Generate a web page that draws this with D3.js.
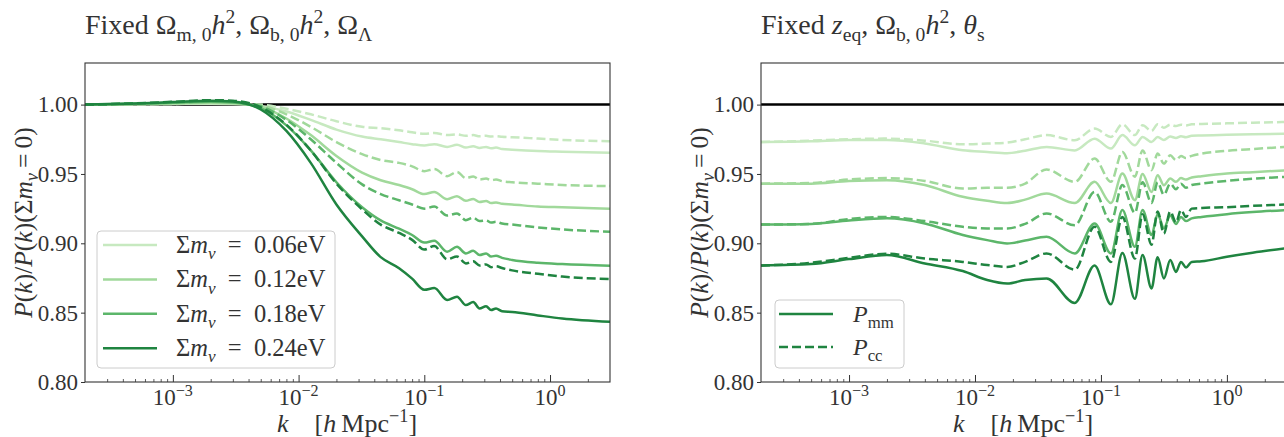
<!DOCTYPE html>
<html>
<head>
<meta charset="utf-8">
<script src="https://cdn.jsdelivr.net/npm/d3@7"></script>
<style>
  body { margin: 0; background: #fff; }
  svg { display: block; font-family: 'Liberation Serif', 'DejaVu Serif', serif; }
</style>
</head>
<body>
<div id="chart"></div>
<script>
// neutrino masses (eV) and their colours
const masses = ['0.06', '0.12', '0.18', '0.24']
const colors = ['#c7e9c0', '#a1d99b', '#5cb66a', '#1f8440']

// left panel: fixed Omega_m h^2, Omega_b h^2, Omega_Lambda
const kLeft = [0.0002, 0.0005, 0.001, 0.002, 0.003, 0.005, 0.008, 0.0125, 0.02, 0.032,
  0.045, 0.063, 0.08, 0.1, 0.12, 0.152, 0.182, 0.214, 0.245, 0.275, 0.31, 0.34, 0.372,
  0.415, 0.5, 0.8, 1.25, 3.0]

const leftMm06 = [1.000, 1.0002, 1.0005, 1.0007, 1.0005, 0.999, 0.995, 0.989, 0.982, 0.977,
  0.975, 0.973, 0.9715, 0.9705, 0.9715, 0.9695, 0.971, 0.969, 0.970, 0.9688, 0.9695, 0.9685,
  0.969, 0.968, 0.9675, 0.9665, 0.966, 0.9652]
const leftCc06 = [1.000, 1.0002, 1.0005, 1.0008, 1.0007, 1.000, 0.997, 0.993, 0.988, 0.984,
  0.983, 0.9815, 0.980, 0.979, 0.9795, 0.978, 0.9785, 0.9775, 0.978, 0.9772, 0.9775, 0.977,
  0.9772, 0.9768, 0.9765, 0.9755, 0.9745, 0.9736]
const leftMm12 = [1.000, 1.0004, 1.0009, 1.0014, 1.001, 0.9985, 0.990, 0.978, 0.963, 0.951,
  0.9455, 0.942, 0.939, 0.9355, 0.937, 0.9318, 0.934, 0.9306, 0.932, 0.9298, 0.9305, 0.929,
  0.9295, 0.9285, 0.928, 0.9265, 0.926, 0.925]
const leftCc12 = [1.000, 1.0005, 1.001, 1.0016, 1.0014, 0.9995, 0.993, 0.984, 0.973, 0.9643,
  0.960, 0.958, 0.9555, 0.952, 0.9535, 0.9484, 0.9515, 0.947, 0.9482, 0.946, 0.9467, 0.9455,
  0.946, 0.9448, 0.944, 0.943, 0.942, 0.9413]
const leftMm18 = [1.000, 1.0006, 1.0014, 1.0021, 1.0016, 0.9975, 0.985, 0.967, 0.944, 0.926,
  0.9165, 0.9105, 0.906, 0.9005, 0.9018, 0.894, 0.8975, 0.8927, 0.8946, 0.8915, 0.8927, 0.8905,
  0.891, 0.8895, 0.888, 0.886, 0.885, 0.8838]
const leftCc18 = [1.000, 1.0007, 1.0015, 1.0024, 1.002, 0.9988, 0.989, 0.975, 0.958, 0.9425,
  0.9355, 0.931, 0.928, 0.925, 0.9265, 0.920, 0.9215, 0.9167, 0.9185, 0.916, 0.9165, 0.915,
  0.9155, 0.9143, 0.9135, 0.9115, 0.910, 0.9083]
const leftMm24 = [1.000, 1.0008, 1.0018, 1.0028, 1.0022, 0.9965, 0.981, 0.958, 0.928, 0.905,
  0.890, 0.882, 0.8745, 0.8665, 0.8677, 0.8591, 0.8615, 0.8555, 0.8576, 0.853, 0.8547, 0.8519,
  0.853, 0.851, 0.8505, 0.848, 0.8458, 0.8434]
const leftCc24 = [1.000, 1.0009, 1.002, 1.0032, 1.0028, 0.998, 0.9855, 0.967, 0.943, 0.9245,
  0.9135, 0.9075, 0.9025, 0.8955, 0.898, 0.8885, 0.8905, 0.8855, 0.887, 0.884, 0.8848, 0.8828,
  0.8835, 0.8822, 0.8805, 0.878, 0.876, 0.8742]

// right panel: fixed z_eq, Omega_b h^2, theta_s
const kRight = [0.0002, 0.0005, 0.001, 0.002, 0.004, 0.008, 0.0125, 0.018, 0.025, 0.037,
  0.062, 0.089, 0.12, 0.148, 0.186, 0.214, 0.252, 0.282, 0.316, 0.355, 0.394, 0.432, 0.473,
  0.525, 0.63, 1.0, 1.6, 3.0]

const rightMm06 = [0.973, 0.9735, 0.9745, 0.9745, 0.972, 0.9671, 0.9659, 0.965, 0.9667, 0.9695,
  0.967, 0.9754, 0.9683, 0.978, 0.9707, 0.9767, 0.9731, 0.9767, 0.9745, 0.977, 0.976, 0.9772,
  0.9765, 0.9775, 0.9777, 0.9783, 0.9787, 0.979]
const rightCc06 = [0.973, 0.974, 0.975, 0.9755, 0.974, 0.9714, 0.9719, 0.9726, 0.975, 0.978,
  0.9743, 0.9827, 0.9767, 0.9858, 0.978, 0.9851, 0.981, 0.9858, 0.9834, 0.9855, 0.9845, 0.9855,
  0.985, 0.9858, 0.986, 0.9865, 0.987, 0.9875]
const rightMm12 = [0.943, 0.943, 0.945, 0.9455, 0.942, 0.9335, 0.9306, 0.929, 0.9315, 0.9359,
  0.929, 0.9443, 0.929, 0.9503, 0.9311, 0.950, 0.937, 0.9491, 0.9419, 0.9467, 0.9443, 0.947,
  0.946, 0.9475, 0.9484, 0.9503, 0.9513, 0.9527]
const rightCc12 = [0.943, 0.9435, 0.946, 0.947, 0.945, 0.9395, 0.940, 0.940, 0.9431, 0.9532,
  0.9443, 0.9611, 0.9443, 0.9659, 0.948, 0.967, 0.9527, 0.9647, 0.9575, 0.9635, 0.960, 0.963,
  0.9615, 0.963, 0.9647, 0.9667, 0.968, 0.9695]
const rightMm18 = [0.9135, 0.914, 0.9165, 0.918, 0.9143, 0.906, 0.9023, 0.8999, 0.902, 0.9047,
  0.8927, 0.9143, 0.8927, 0.924, 0.8975, 0.924, 0.906, 0.921, 0.911, 0.920, 0.914, 0.919,
  0.916, 0.918, 0.919, 0.921, 0.9225, 0.924]
const rightCc18 = [0.9135, 0.914, 0.9175, 0.919, 0.916, 0.9119, 0.9107, 0.9107, 0.914, 0.9215,
  0.913, 0.937, 0.9155, 0.942, 0.922, 0.944, 0.929, 0.944, 0.935, 0.943, 0.939, 0.943,
  0.940, 0.942, 0.943, 0.945, 0.9465, 0.948]
const rightMm24 = [0.884, 0.885, 0.8886, 0.8915, 0.8855, 0.880, 0.8735, 0.871, 0.8735, 0.8747,
  0.857, 0.884, 0.856, 0.893, 0.860, 0.8915, 0.8675, 0.890, 0.8747, 0.888, 0.8794, 0.8866,
  0.8826, 0.8866, 0.887, 0.8903, 0.8932, 0.8965]
const rightCc24 = [0.884, 0.886, 0.8895, 0.8925, 0.889, 0.8866, 0.8843, 0.883, 0.8866, 0.8927,
  0.881, 0.912, 0.8866, 0.919, 0.889, 0.921, 0.899, 0.923, 0.907, 0.923, 0.915, 0.924,
  0.919, 0.925, 0.9255, 0.926, 0.927, 0.928]

const yTicks = [0.80, 0.85, 0.90, 0.95, 1.00]
const xTicks = [1e-3, 1e-2, 1e-1, 1]
const xTickExp = ['\u22123', '\u22122', '\u22121', '0']

const W = 1284
const H = 437
const plotTop = 63
const plotBottom = 382
const textColor = '#333'

const panels = [
  {
    left: 85, right: 610, k: kLeft,
    mm: [leftMm06, leftMm12, leftMm18, leftMm24],
    cc: [leftCc06, leftCc12, leftCc18, leftCc24],
    title: [{ t: 'Fixed ' }, { t: '\u03A9' }, { t: 'm, 0', s: 'sub' }, { t: 'h', i: true },
      { t: '2', s: 'sup' }, { t: ', \u03A9' }, { t: 'b, 0', s: 'sub' }, { t: 'h', i: true },
      { t: '2', s: 'sup' }, { t: ', \u03A9' }, { t: '\u039B', s: 'sub' }]
  },
  {
    left: 761, right: 1287, k: kRight,
    mm: [rightMm06, rightMm12, rightMm18, rightMm24],
    cc: [rightCc06, rightCc12, rightCc18, rightCc24],
    title: [{ t: 'Fixed ' }, { t: 'z', i: true }, { t: 'eq', s: 'sub' }, { t: ', \u03A9' },
      { t: 'b, 0', s: 'sub' }, { t: 'h', i: true }, { t: '2', s: 'sup' }, { t: ', ' },
      { t: '\u03B8', i: true }, { t: 's', s: 'sub' }]
  }
]

const svg = d3.select('#chart').append('svg').attr('width', W).attr('height', H)

// write text made of normal / italic / sub / sup pieces
function rich(sel, parts, size) {
  let shift = 0
  parts.forEach(function(p) {
    const target = p.s === 'sub' ? size * 0.25 : p.s === 'sup' ? -size * 0.38 : 0
    sel.append('tspan')
      .attr('dy', target - shift)
      .attr('font-size', p.s ? size * 0.7 : size)
      .attr('font-style', p.i ? 'italic' : null)
      .text(p.t)
    shift = target
  })
}

const yPositionScale = d3.scaleLinear().domain([0.8, 1.03]).range([plotBottom, plotTop])

const minorTicks = []
for (let e = -4; e <= 0; e++) {
  for (let m = 2; m <= 9; m++) {
    const v = m * Math.pow(10, e)
    if (v > 2e-4 && v < 3) minorTicks.push(v)
  }
}

panels.forEach(function(p, pi) {
  const xPositionScale = d3.scaleLog().domain([2e-4, 3]).range([p.left, p.right])
  const g = svg.append('g')

  g.append('clipPath').attr('id', 'clip' + pi)
    .append('rect')
    .attr('x', p.left).attr('y', plotTop)
    .attr('width', p.right - p.left).attr('height', plotBottom - plotTop)

  // reference line at 1
  g.append('line')
    .attr('x1', p.left).attr('x2', p.right)
    .attr('y1', yPositionScale(1)).attr('y2', yPositionScale(1))
    .attr('stroke', '#000').attr('stroke-width', 2.5)

  const line = d3.line()
    .x(function(d) { return xPositionScale(d[0]) })
    .y(function(d) { return yPositionScale(d[1]) })
    .curve(d3.curveMonotoneX)

  const curves = g.append('g').attr('clip-path', 'url(#clip' + pi + ')')
  masses.forEach(function(m, i) {
    curves.append('path')
      .datum(p.k.map(function(k, j) { return [k, p.cc[i][j]] }))
      .attr('d', line)
      .attr('fill', 'none')
      .attr('stroke', colors[i])
      .attr('stroke-width', 2.5)
      .attr('stroke-dasharray', '9,4')
    curves.append('path')
      .datum(p.k.map(function(k, j) { return [k, p.mm[i][j]] }))
      .attr('d', line)
      .attr('fill', 'none')
      .attr('stroke', colors[i])
      .attr('stroke-width', 2.5)
  })

  // spines
  g.append('rect')
    .attr('x', p.left).attr('y', plotTop)
    .attr('width', p.right - p.left).attr('height', plotBottom - plotTop)
    .attr('fill', 'none').attr('stroke', '#333').attr('stroke-width', 1.1)

  // y axis
  const yAxis = g.append('g')
    .attr('transform', 'translate(' + p.left + ',0)')
    .call(d3.axisLeft(yPositionScale).tickValues(yTicks).tickFormat(d3.format('.2f'))
      .tickSize(4).tickPadding(3))
  yAxis.select('.domain').remove()
  yAxis.selectAll('line').attr('stroke', '#333')
  yAxis.selectAll('text').attr('font-size', 23).attr('fill', textColor)
    .attr('font-family', "'Liberation Serif', serif")

  // x axis: major and minor ticks pointing inward
  const xAxis = g.append('g')
    .attr('transform', 'translate(0,' + plotBottom + ')')
    .call(d3.axisBottom(xPositionScale).tickValues(xTicks).tickFormat('').tickSize(-7))
  xAxis.select('.domain').remove()
  xAxis.selectAll('line').attr('stroke', '#333')
  const xMinor = g.append('g')
    .attr('transform', 'translate(0,' + plotBottom + ')')
    .call(d3.axisBottom(xPositionScale).tickValues(minorTicks).tickFormat('').tickSize(-3))
  xMinor.select('.domain').remove()
  xMinor.selectAll('line').attr('stroke', '#333').attr('stroke-width', 0.8)

  xTicks.forEach(function(t, i) {
    const lab = g.append('text')
      .attr('x', xPositionScale(t)).attr('y', 405)
      .attr('text-anchor', 'middle').attr('fill', textColor)
    rich(lab, [{ t: '10' }, { t: xTickExp[i], s: 'sup' }], 23)
  })

  // axis labels
  const xl = g.append('text')
    .attr('x', p.left + 262).attr('y', 432)
    .attr('text-anchor', 'middle').attr('fill', textColor)
  rich(xl, [{ t: 'k', i: true }, { t: '\u2003[' }, { t: 'h', i: true }, { t: '\u2009Mpc' },
    { t: '\u22121', s: 'sup' }, { t: ']' }], 26)

  const yl = g.append('text')
    .attr('transform', 'translate(' + (p.left - 53) + ',' + ((plotTop + plotBottom) / 2) + ') rotate(-90)')
    .attr('text-anchor', 'middle').attr('fill', textColor)
  rich(yl, [{ t: 'P', i: true }, { t: '(' }, { t: 'k', i: true }, { t: ')/' }, { t: 'P', i: true },
    { t: '(' }, { t: 'k', i: true }, { t: ')(\u03A3' }, { t: 'm', i: true },
    { t: '\u03BD', s: 'sub', i: true }, { t: '\u2009=\u20090)' }], 25.5)

  const ti = g.append('text')
    .attr('x', p.left).attr('y', 34).attr('fill', textColor)
  rich(ti, p.title, 28)
})

// legend, left panel: masses
const legL = svg.append('g')
legL.append('rect')
  .attr('x', 97).attr('y', 231).attr('width', 238).attr('height', 137)
  .attr('rx', 4).attr('fill', '#fff').attr('fill-opacity', 0.85)
  .attr('stroke', '#ccc')
masses.forEach(function(m, i) {
  const yy = 245 + i * 34.4
  legL.append('line')
    .attr('x1', 103).attr('x2', 157).attr('y1', yy).attr('y2', yy)
    .attr('stroke', colors[i]).attr('stroke-width', 2.5)
  const t = legL.append('text').attr('x', 176).attr('y', yy + 8).attr('fill', textColor)
  rich(t, [{ t: '\u03A3' }, { t: 'm', i: true }, { t: '\u03BD', s: 'sub', i: true },
    { t: '\u2002=\u20020.' + m.slice(2) + 'eV' }], 24.5)
})

// legend, right panel: line styles
const legR = svg.append('g')
legR.append('rect')
  .attr('x', 775).attr('y', 300).attr('width', 129).attr('height', 68)
  .attr('rx', 4).attr('fill', '#fff').attr('fill-opacity', 0.85)
  .attr('stroke', '#ccc')
const styles = [{ name: 'mm', dash: null }, { name: 'cc', dash: '9,4' }]
styles.forEach(function(s, i) {
  const yy = 314 + i * 33
  legR.append('line')
    .attr('x1', 779).attr('x2', 833).attr('y1', yy).attr('y2', yy)
    .attr('stroke', colors[3]).attr('stroke-width', 2.5)
    .attr('stroke-dasharray', s.dash)
  const t = legR.append('text').attr('x', 853).attr('y', yy + 8).attr('fill', textColor)
  rich(t, [{ t: 'P', i: true }, { t: s.name, s: 'sub' }], 24)
})
</script>
</body>
</html>
